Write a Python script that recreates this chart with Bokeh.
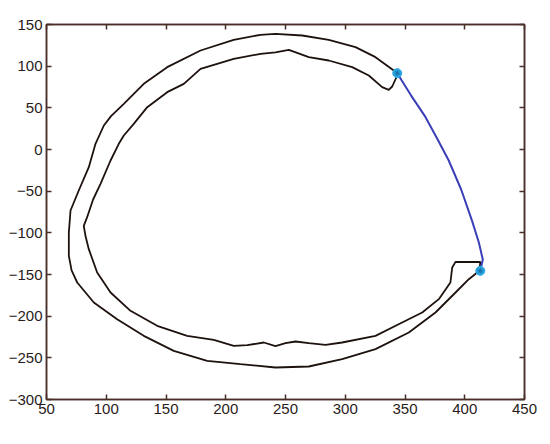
from bokeh.plotting import figure
from bokeh.models import Range1d, FixedTicker, LinearAxis
from bokeh.embed import file_html
from bokeh.resources import INLINE

# contour (outer edge, then inner edge back to start)
outer_x = [343.5, 340.6, 325.3, 308.6, 286.2, 264.0, 241.6, 229.0, 206.6, 178.9, 151.0, 131.4, 114.7, 104.0, 98.0, 91.0, 85.4, 77.0, 70.1, 68.7, 68.7, 71.0, 75.7, 89.6, 109.1, 131.4, 156.5, 184.5, 212.3, 241.6, 269.5, 297.4, 325.3, 353.2, 375.5, 392.3, 403.4, 412.3]
outer_y = [91.6, 94.8, 110.8, 122.8, 131.6, 136.8, 138.8, 137.6, 131.6, 118.8, 98.8, 78.8, 54.8, 40.0, 28.8, 6.8, -21.2, -49.2, -73.2, -99.6, -127.6, -145.0, -159.6, -183.6, -203.6, -223.6, -241.6, -253.6, -257.6, -261.6, -260.4, -251.6, -239.6, -219.6, -195.6, -171.6, -155.6, -145.6]
inner_x = [413.0, 392.3, 389.5, 388.0, 378.3, 364.4, 347.6, 325.3, 297.4, 283.5, 269.5, 258.4, 250.0, 241.6, 231.9, 218.0, 206.7, 190.0, 167.7, 142.6, 120.3, 103.6, 92.4, 85.4, 82.6, 81.2, 84.0, 89.0, 95.2, 103.6, 110.5, 114.7, 123.0, 134.3, 151.0, 164.9, 178.9, 206.7, 229.1, 241.6, 252.8, 269.5, 286.2, 305.8, 319.7, 330.9, 336.4, 339.3, 343.5, 343.5]
inner_y = [-135.0, -134.8, -141.6, -159.6, -179.6, -195.6, -207.6, -223.6, -231.6, -234.4, -232.4, -230.4, -232.4, -236.0, -231.6, -234.8, -235.6, -228.4, -223.6, -211.6, -193.6, -171.6, -147.6, -119.6, -103.6, -91.6, -81.2, -60.0, -41.2, -13.2, 6.8, 16.8, 30.8, 50.8, 68.8, 78.8, 96.8, 108.8, 114.8, 116.5, 119.6, 110.8, 106.8, 98.8, 88.8, 74.8, 71.6, 75.6, 88.8, 91.6]

# blue connecting curve
curve_x = [343.5, 355.0, 367.2, 377.0, 386.6, 397.0, 406.2, 411.8, 415.1, 413.0]
curve_y = [91.6, 65.0, 38.8, 13.0, -13.2, -48.0, -86.0, -111.6, -132.0, -145.6]

# end points
pts_x = [343.5, 413.0]
pts_y = [91.6, -145.6]

xticks = [50, 100, 150, 200, 250, 300, 350, 400, 450]
yticks = [-300, -250, -200, -150, -100, -50, 0, 50, 100, 150]

AX = "#4a2e28"
TX = "#2a1c1a"
FONT = "Liberation Sans"

p = figure(width=542, height=436, output_backend="svg", toolbar_location=None,
           x_range=Range1d(50, 450), y_range=Range1d(-300, 150),
           min_border_left=46, min_border_right=18, min_border_top=24, min_border_bottom=37)
p.grid.visible = False
p.outline_line_color = AX
p.outline_line_width = 1.5
p.background_fill_color = "white"
p.border_fill_color = "white"

def style(ax, ticks, labels=True):
    ax.ticker = FixedTicker(ticks=ticks)
    ax.axis_line_color = AX
    ax.axis_line_width = 1.5
    ax.major_tick_line_color = AX
    ax.major_tick_line_width = 1.5
    ax.major_tick_in = 5
    ax.major_tick_out = 0
    ax.minor_tick_line_color = None
    ax.major_label_text_font = FONT
    if labels:
        ax.major_label_text_color = TX
        ax.major_label_text_font_size = "15px"
        ax.major_label_standoff = 4
    else:
        ax.major_label_text_color = None
        ax.major_label_text_font_size = "1px"
        ax.major_label_standoff = 0

style(p.xaxis[0], xticks)
style(p.yaxis[0], yticks)
top = LinearAxis()
style(top, xticks, labels=False)
right = LinearAxis()
style(right, yticks, labels=False)
p.add_layout(top, "above")
p.add_layout(right, "right")

cx = outer_x + inner_x
cy = outer_y + inner_y
p.line(cx, cy, line_color="#1e120e", line_width=1.8)
p.line(curve_x, curve_y, line_color="#3a3fb8", line_width=2)
p.scatter(pts_x, pts_y, size=9, marker="circle", fill_color="#2aa8e4", line_color="#2aa8e4")
p.scatter(pts_x, pts_y, size=6, marker="asterisk", line_color="#1a6fa8", line_width=1)

open("out.html", "w").write(file_html(p, INLINE))
